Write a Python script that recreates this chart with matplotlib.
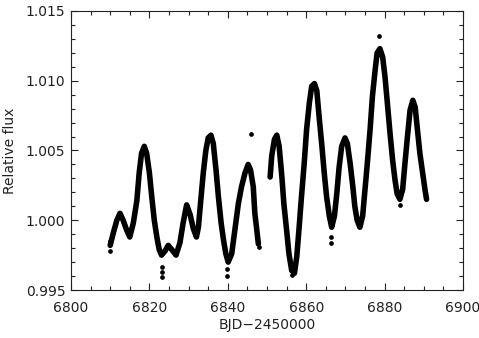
import matplotlib
matplotlib.use('Agg')
import matplotlib.pyplot as plt
from matplotlib.ticker import MultipleLocator

# light curve, first chunk (before the data gap)
time_a = [6810.0, 6810.8, 6811.7, 6812.5, 6813.3, 6814.2, 6815.0, 6815.9, 6816.8, 6817.4,
          6818.0, 6818.7, 6819.3, 6820.0, 6820.6, 6821.25, 6821.9, 6822.5, 6823.1, 6824.0,
          6824.8, 6825.7, 6826.8, 6827.8, 6828.6, 6829.5, 6830.4, 6831.2, 6832.0, 6832.5,
          6833.1, 6833.75, 6834.4, 6835.0, 6835.7, 6836.3, 6837.0, 6837.6, 6838.3, 6838.9,
          6839.5, 6840.1, 6841.0, 6841.8, 6842.7, 6843.5, 6844.4, 6845.2, 6845.8, 6846.5,
          6846.9, 6847.4, 6847.8]
flux_a = [0.9982, 0.9991, 1.0000, 1.0005, 1.0000, 0.9993, 0.9988, 0.9998, 1.0014, 1.0034,
          1.0048, 1.0053, 1.0048, 1.0034, 1.0017, 1.0000, 0.9988, 0.9979, 0.9975, 0.9978,
          0.9982, 0.9979, 0.9975, 0.9984, 0.9998, 1.0011, 1.0004, 0.9994, 0.9988, 0.9995,
          1.0014, 1.0034, 1.0050, 1.0059, 1.0061, 1.0055, 1.0036, 1.0017, 0.9998, 0.9986,
          0.9976, 0.9970, 0.9976, 0.9993, 1.0012, 1.0024, 1.0034, 1.0040, 1.0036, 1.0024,
          1.0005, 0.9993, 0.9983]

# second chunk (after the gap)
time_b = [6850.8, 6851.2, 6851.9, 6852.5, 6853.1, 6853.8, 6854.3, 6855.0, 6855.6, 6856.3,
          6857.0, 6857.6, 6858.2, 6858.8, 6859.5, 6860.1, 6860.8, 6861.4, 6862.1, 6862.7,
          6863.3, 6863.95, 6864.6, 6865.2, 6865.9, 6866.5, 6867.2, 6867.8, 6868.4, 6869.05,
          6869.9, 6870.5, 6871.2, 6871.9, 6872.4, 6873.0, 6873.7, 6874.4, 6875.0, 6875.6,
          6876.3, 6876.9, 6877.6, 6878.1, 6878.8, 6879.5, 6880.1, 6880.8, 6881.4, 6882.05,
          6882.65, 6883.2, 6883.9, 6884.6, 6885.2, 6885.9, 6886.5, 6887.2, 6887.8, 6888.3,
          6889.0, 6889.7, 6890.3, 6890.7]
flux_b = [1.0031, 1.0046, 1.0058, 1.0061, 1.0053, 1.0031, 1.0012, 0.9993, 0.9976, 0.9964,
          0.9962, 0.9974, 0.9995, 1.0017, 1.0041, 1.0065, 1.0084, 1.0096, 1.0098, 1.0093,
          1.0074, 1.0055, 1.0034, 1.0017, 1.0003, 0.9995, 1.0003, 1.0019, 1.0038, 1.0053,
          1.0059, 1.0055, 1.0041, 1.0024, 1.0010, 1.0000, 0.9995, 1.0003, 1.0022, 1.0041,
          1.0065, 1.0089, 1.0108, 1.0120, 1.0123, 1.0117, 1.0103, 1.0081, 1.0062, 1.0043,
          1.0029, 1.0019, 1.0015, 1.0022, 1.0041, 1.0062, 1.0079, 1.0086, 1.0081, 1.0067,
          1.0048, 1.0034, 1.0022, 1.0015]

# isolated points off the main curve
out_time = [6810.0, 6810.0, 6823.2, 6823.2, 6823.2, 6839.7, 6839.7, 6845.9, 6848.0,
            6856.5, 6866.4, 6866.4, 6878.6, 6883.9]
out_flux = [0.9978, 0.9985, 0.99665, 0.9963, 0.9959, 0.9965, 0.9960, 1.0062, 0.9981,
            0.9961, 0.9988, 0.9984, 1.0132, 1.0011]

txt = '#222222'
plt.rcParams['font.family'] = 'DejaVu Sans'
plt.rcParams['font.size'] = 10

fig = plt.figure(figsize=(4.79, 3.38), dpi=100)
ax = fig.add_axes([0.1482, 0.142, 0.8184, 0.8255])

for t, f in [(time_a, flux_a), (time_b, flux_b)]:
    ax.plot(t, f, color='black', lw=4.0, solid_capstyle='round', solid_joinstyle='round')
ax.plot(out_time, out_flux, 'o', color='black', ms=3.4, mew=0)

ax.set_xlim(6800, 6900)
ax.set_ylim(0.995, 1.015)
ax.xaxis.set_major_locator(MultipleLocator(20))
ax.xaxis.set_minor_locator(MultipleLocator(5))
ax.yaxis.set_major_locator(MultipleLocator(0.005))
ax.yaxis.set_minor_locator(MultipleLocator(0.001))
ax.yaxis.set_major_formatter(plt.FormatStrFormatter('%.3f'))
ax.tick_params(which='both', direction='in', top=True, right=True, colors=txt,
               labelcolor=txt, width=0.8)
ax.tick_params(which='major', length=5)
ax.tick_params(which='minor', length=3)
ax.tick_params(axis='x', pad=8)
ax.tick_params(axis='y', pad=4)
for sp in ax.spines.values():
    sp.set_color(txt)
    sp.set_linewidth(0.8)

ax.set_xlabel('BJD\u22122450000', color=txt, labelpad=2)
ax.set_ylabel('Relative flux', color=txt, labelpad=6)

fig.savefig('out.png', dpi=100)
